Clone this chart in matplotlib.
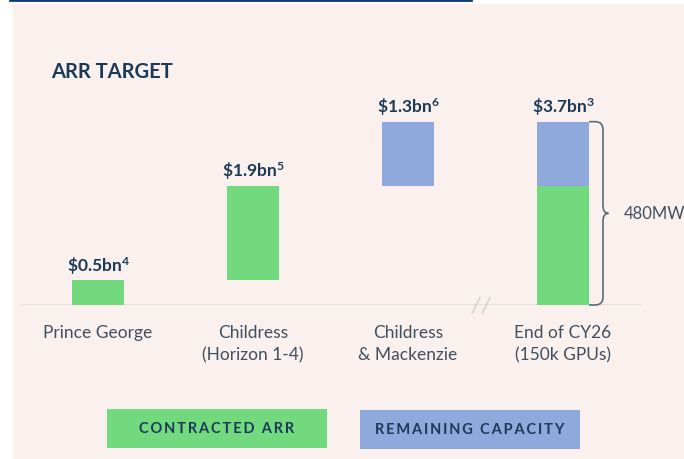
import matplotlib.pyplot as plt
from matplotlib.patches import Rectangle, PathPatch
from matplotlib.path import Path
from matplotlib.lines import Line2D

plt.rcParams['font.family'] = ['Lato', 'DejaVu Sans']
plt.rcParams['mathtext.fontset'] = 'custom'
plt.rcParams['mathtext.rm'] = 'Lato:bold'
plt.rcParams['mathtext.it'] = 'Lato:bold'
plt.rcParams['mathtext.bf'] = 'Lato:bold'

# data
sites = ["Prince George", "Childress\n(Horizon 1-4)", "Childress\n& Mackenzie", "End of CY26\n(150k GPUs)"]
contracted = [0.5, 1.9, 0.0, 2.4]
remaining = [0.0, 0.0, 1.3, 1.3]
bottoms = [0.0, 0.5, 2.4, 0.0]
value_labels = [r"\$0.5bn$^{4}$", r"\$1.9bn$^{5}$", r"\$1.3bn$^{6}$", r"\$3.7bn$^{3}$"]
capacity_label = "480MW"
legend_labels = ["CONTRACTED ARR", "REMAINING CAPACITY"]

green = "#72D97F"
blue = "#8FA9DC"
navy = "#1B3A57"
grey_text = "#3F5060"
panel = "#FAF0EE"

W, H = 684, 460


def fx(x):
    return x / W


def fy(y):
    return 1 - y / H


fig = plt.figure(figsize=(W / 100, H / 100), dpi=100)
fig.patch.set_facecolor("white")
fig.patches.append(Rectangle((fx(13), 0), 1 - fx(13), fy(5), transform=fig.transFigure,
                             facecolor=panel, edgecolor="none", zorder=-5))
fig.lines.append(Line2D([fx(10), fx(471)], [fy(0.8), fy(0.8)], transform=fig.transFigure,
                        color="#0B3B7A", lw=2))

ax = fig.add_axes([fx(20.5), fy(306), 620 / W, (306 - 88) / H])
ax.set_zorder(2)
ax.set_xlim(-0.5, 3.5)
ax.set_ylim(0, 4.4)
ax.axis("off")
ax.patch.set_alpha(0)

x = list(range(len(sites)))
bw = 52 / 155
rem_bottoms = [b + c for b, c in zip(bottoms, contracted)]
ax.bar(x, contracted, bottom=bottoms, width=bw, color=green, zorder=3)
ax.bar(x, remaining, bottom=rem_bottoms, width=bw, color=blue, zorder=3)
ax.axhline(0, color="#DCDCDC", lw=1.2, zorder=2)

tops = [r + m for r, m in zip(rem_bottoms, remaining)]
for xi, t, lab in zip(x, tops, value_labels):
    ax.annotate(lab, (xi, t), xytext=(0, 7), textcoords="offset points", ha="center",
                va="baseline", fontsize=12.5, fontweight="bold", color=navy)

for xi, s in zip(x, sites):
    ax.annotate(s, (xi, 0), xytext=(0, -13.5), textcoords="offset points", ha="center",
                va="top", fontsize=12.5, color=grey_text, linespacing=1.5)

# axis break marks
for bx in [2.44, 2.505]:
    ax.plot([bx - 0.024, bx + 0.024], [-0.16, 0.15], color="#D5D5D5", lw=1.2, clip_on=False)

# brace for the last bar
right = x[-1] + bw / 2
top = tops[-1]
mid = top / 2
bxl = x[-1] + 40 / 155
rx, ry = 0.05, 0.16
verts = [(right, top), (bxl - rx, top), (bxl, top), (bxl, top - ry),
         (bxl, mid + ry), (bxl, mid), (bxl + 0.035, mid),
         (bxl, mid), (bxl, mid - ry),
         (bxl, ry), (bxl, 0), (bxl - rx, 0), (right, 0)]
codes = [Path.MOVETO, Path.LINETO, Path.CURVE3, Path.CURVE3,
         Path.LINETO, Path.CURVE3, Path.CURVE3,
         Path.CURVE3, Path.CURVE3,
         Path.LINETO, Path.CURVE3, Path.CURVE3, Path.LINETO]
ax.add_patch(PathPatch(Path(verts, codes), facecolor="none", edgecolor="#5A6B7B",
                       lw=1.2, clip_on=False, zorder=4))
ax.text(x[-1] + 61 / 155, mid, capacity_label, ha="left", va="center", fontsize=12,
        color=grey_text, clip_on=False)

fig.text(fx(51), fy(72), "ARR TARGET", fontsize=14.5, fontweight="bold", color=navy,
         ha="left", va="center")

# legend boxes
for (x0, y0, x1, y1), col, lab in zip([(107, 410, 327, 449), (360, 411, 580, 450)],
                                      [green, blue], legend_labels):
    fig.patches.append(Rectangle((fx(x0), fy(y1)), fx(x1 - x0), (y1 - y0) / H,
                                 transform=fig.transFigure, facecolor=col, edgecolor="none"))
    fig.text(fx((x0 + x1) / 2), fy((y0 + y1) / 2), "\u2009".join(lab), ha="center",
             va="center", fontsize=10.5, fontweight="bold", color=navy)

fig.savefig("out.png", dpi=100)
